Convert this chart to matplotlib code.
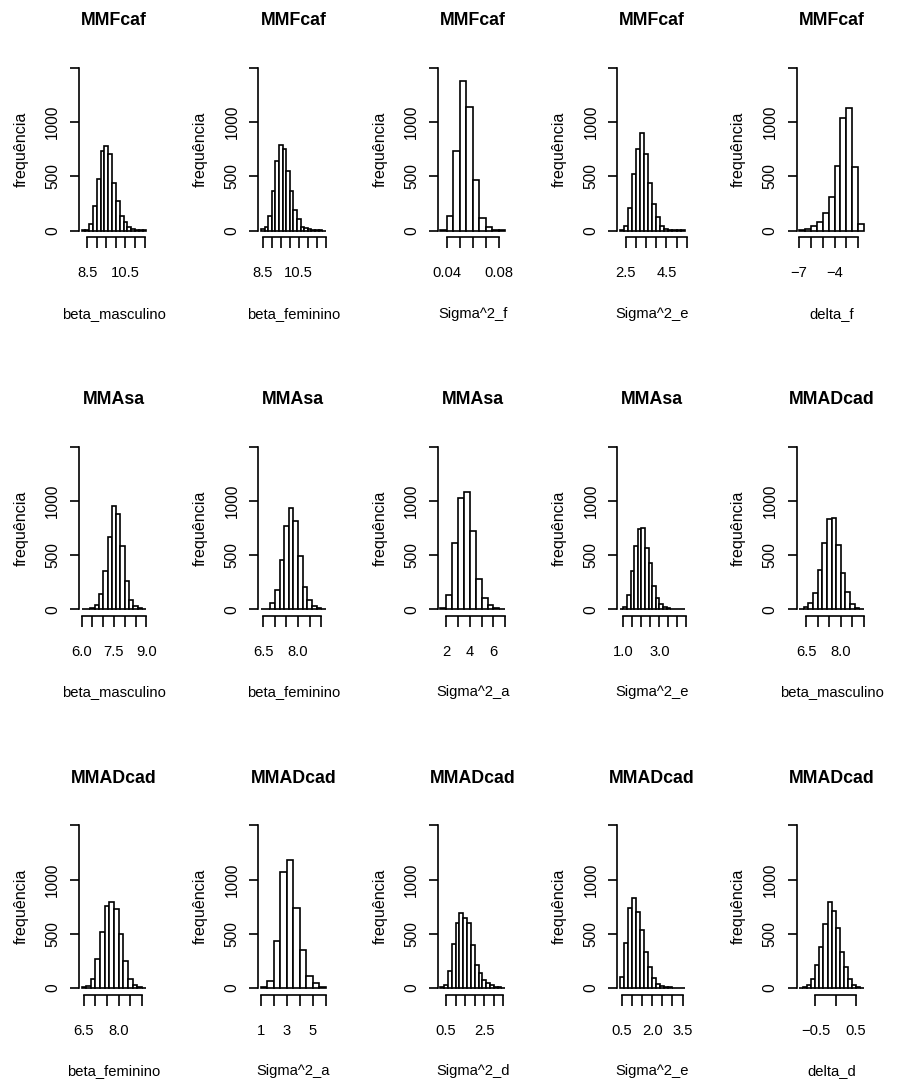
import numpy as np
import matplotlib
matplotlib.use("Agg")
import matplotlib.pyplot as plt

plt.rcParams['font.family'] = ['Liberation Sans', 'DejaVu Sans']

# --- Data (one entry per panel, row by row) ---
titles = ["MMFcaf"] * 5 + ["MMAsa"] * 4 + ["MMADcad"] * 6
xlabels = ["beta_masculino", "beta_feminino", "Sigma^2_f", "Sigma^2_e", "delta_f",
           "beta_masculino", "beta_feminino", "Sigma^2_a", "Sigma^2_e", "beta_masculino",
           "beta_feminino", "Sigma^2_a", "Sigma^2_d", "Sigma^2_e", "delta_d"]

bin_start = [8.2, 8.4, 0.035, 2.2, -7.0,
             6.0, 6.4, 1.5, 0.8, 6.2,
             6.4, 1.0, 0.2, 0.4, -0.9]
bin_width = [0.2, 0.2, 0.005, 0.2, 0.5,
             0.2, 0.2, 0.5, 0.2, 0.2,
             0.2, 0.5, 0.2, 0.2, 0.1]

counts = [
    [3, 10, 62, 231, 475, 738, 778, 710, 444, 275, 139, 80, 37, 19, 9, 5, 2],
    [12, 30, 136, 370, 639, 793, 756, 552, 370, 191, 105, 37, 22, 12, 6, 3, 2, 1],
    [5, 136, 738, 1380, 1142, 469, 120, 37, 9, 3],
    [6, 43, 207, 525, 753, 901, 710, 438, 247, 130, 43, 19, 9, 6, 3, 3],
    [6, 19, 40, 80, 160, 309, 593, 1043, 1127, 590, 59],
    [3, 6, 14, 42, 142, 358, 672, 957, 880, 580, 265, 86, 31, 9, 3],
    [3, 8, 55, 180, 457, 765, 935, 818, 488, 210, 86, 31, 12, 5],
    [15, 133, 611, 1025, 1083, 722, 284, 108, 40, 12, 6],
    [6, 25, 130, 352, 586, 740, 747, 568, 432, 216, 102, 46, 25, 12, 6, 3, 3, 2],
    [6, 22, 55, 148, 364, 611, 836, 843, 593, 333, 160, 46, 15, 6],
    [6, 18, 86, 272, 519, 760, 793, 728, 500, 253, 86, 25, 9, 3],
    [6, 68, 438, 1070, 1185, 735, 350, 115, 43, 10],
    [6, 31, 160, 404, 599, 691, 645, 599, 398, 213, 136, 74, 43, 25, 12, 6, 3],
    [105, 420, 741, 830, 698, 537, 330, 198, 90, 40, 22, 9, 6, 3, 3, 2],
    [3, 9, 28, 86, 213, 383, 593, 790, 707, 552, 336, 191, 86, 25, 9, 3],
]

xticks = [
    [8.5, 9.0, 9.5, 10.0, 10.5, 11.0, 11.5],
    [8.5, 9.0, 9.5, 10.0, 10.5, 11.0, 11.5, 12.0],
    [0.04, 0.05, 0.06, 0.07, 0.08],
    [2.5, 3.0, 3.5, 4.0, 4.5, 5.0, 5.5],
    [-7, -6, -5, -4, -3, -2],
    [6.0, 6.5, 7.0, 7.5, 8.0, 8.5, 9.0],
    [6.5, 7.0, 7.5, 8.0, 8.5, 9.0],
    [2, 3, 4, 5, 6, 7],
    [1.0, 1.5, 2.0, 2.5, 3.0, 3.5, 4.0, 4.5],
    [6.5, 7.0, 7.5, 8.0, 8.5, 9.0],
    [6.5, 7.0, 7.5, 8.0, 8.5, 9.0],
    [1, 2, 3, 4, 5, 6],
    [0.5, 1.0, 1.5, 2.0, 2.5, 3.0, 3.5],
    [0.5, 1.0, 1.5, 2.0, 2.5, 3.0, 3.5],
    [-0.5, 0.0, 0.5],
]
xtick_labels = [
    ["8.5", "", "", "", "10.5", "", ""],
    ["8.5", "", "", "", "10.5", "", "", ""],
    ["0.04", "", "", "", "0.08"],
    ["2.5", "", "", "", "4.5", "", ""],
    ["\u22127", "", "", "\u22124", "", ""],
    ["6.0", "", "", "7.5", "", "", "9.0"],
    ["6.5", "", "", "8.0", "", ""],
    ["2", "", "4", "", "6", ""],
    ["1.0", "", "", "", "3.0", "", "", ""],
    ["6.5", "", "", "8.0", "", ""],
    ["6.5", "", "", "8.0", "", ""],
    ["1", "", "3", "", "5", ""],
    ["0.5", "", "", "", "2.5", "", ""],
    ["0.5", "", "", "2.0", "", "", "3.5"],
    ["\u22120.5", "", "0.5"],
]
yticks = [0, 500, 1000, 1500]
ytick_labels = ["0", "500", "1000", ""]

# --- Layout (pixels) ---
W, H = 897, 1084
fig = plt.figure(figsize=(W / 100, H / 100), dpi=100)
col_left, col_step, plot_w = 79, 179.4, 70
row_top, row_step, plot_h = 61.5, 378.7, 175.7

for k in range(15):
    r, c = divmod(k, 5)
    left = col_left + c * col_step
    top = row_top + r * row_step
    ax = fig.add_axes([left / W, 1 - (top + plot_h) / H, plot_w / W, plot_h / H])

    edges = bin_start[k] + bin_width[k] * np.arange(len(counts[k]) + 1)
    ax.bar(edges[:-1], counts[k], width=bin_width[k], align='edge',
           facecolor='white', edgecolor='black', linewidth=1.2)

    rng = edges[-1] - edges[0]
    ax.set_xlim(edges[0] - 0.04 * rng, edges[-1] + 0.04 * rng)
    ax.set_ylim(-60, 1560)

    for s in ('top', 'right'):
        ax.spines[s].set_visible(False)
    ax.spines['left'].set_bounds(0, 1500)
    ax.spines['bottom'].set_bounds(xticks[k][0], xticks[k][-1])
    for s in ('left', 'bottom'):
        ax.spines[s].set_linewidth(1.2)

    ax.set_xticks(xticks[k])
    ax.set_xticklabels(xtick_labels[k])
    ax.set_yticks(yticks)
    ax.set_yticklabels(ytick_labels, rotation=90, va='center')
    ax.tick_params(axis='x', length=8, width=1.2, pad=13, labelsize=10.6)
    ax.tick_params(axis='y', length=6.5, width=1.2, pad=7, labelsize=11.2)

    ax.set_xlabel(xlabels[k], fontsize=10.6, labelpad=19)
    ax.set_ylabel("frequência", fontsize=11.6, labelpad=12)
    ax.set_title(titles[k], fontsize=12.8, fontweight='bold', pad=26)

fig.savefig("out.png", dpi=100)
